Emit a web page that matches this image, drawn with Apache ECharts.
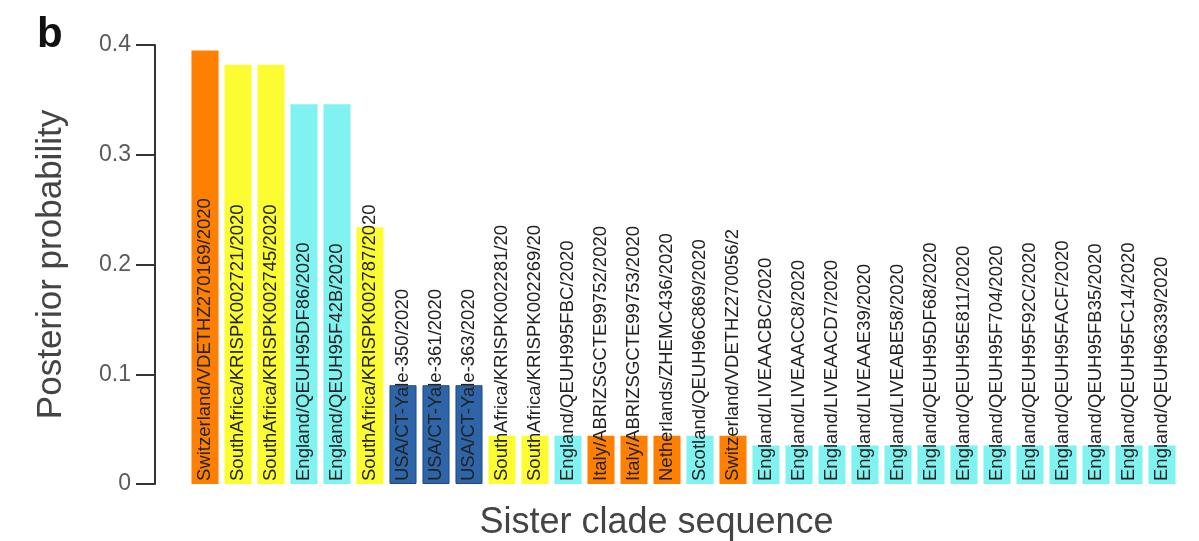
<!DOCTYPE html>
<html>
<head>
<meta charset="utf-8">
<script src="https://cdn.jsdelivr.net/npm/echarts@6/dist/echarts.min.js"></script>
<style>
  html, body { margin: 0; padding: 0; background: #ffffff; }
  #chart { width: 1199px; height: 541px; }
</style>
</head>
<body>
<div id="chart"></div>
<script>
// Sister clade sequences, ordered by posterior probability
const sequences = [
  'Switzerland/VDETHZ270169/2020',
  'SouthAfrica/KRISPK002721/2020',
  'SouthAfrica/KRISPK002745/2020',
  'England/QEUH95DF86/2020',
  'England/QEUH95F42B/2020',
  'SouthAfrica/KRISPK002787/2020',
  'USA/CT-Yale-350/2020',
  'USA/CT-Yale-361/2020',
  'USA/CT-Yale-363/2020',
  'SouthAfrica/KRISPK002281/20',
  'SouthAfrica/KRISPK002269/20',
  'England/QEUH995FBC/2020',
  'Italy/ABRIZSGCTE99752/2020',
  'Italy/ABRIZSGCTE99753/2020',
  'Netherlands/ZHEMC436/2020',
  'Scotland/QEUH96C869/2020',
  'Switzerland/VDETHZ270056/2',
  'England/LIVEAACBC/2020',
  'England/LIVEAACC8/2020',
  'England/LIVEAACD7/2020',
  'England/LIVEAAE39/2020',
  'England/LIVEABE58/2020',
  'England/QEUH95DF68/2020',
  'England/QEUH95E811/2020',
  'England/QEUH95F704/2020',
  'England/QEUH95F92C/2020',
  'England/QEUH95FACF/2020',
  'England/QEUH95FB35/2020',
  'England/QEUH95FC14/2020',
  'England/QEUH96339/2020'
];

// Posterior probability of each sister clade
const probabilities = [
  0.395, 0.382, 0.382, 0.346, 0.346, 0.234,
  0.090, 0.090, 0.090,
  0.044, 0.044, 0.044, 0.044, 0.044, 0.044, 0.044, 0.044,
  0.035, 0.035, 0.035, 0.035, 0.035, 0.035, 0.035,
  0.035, 0.035, 0.035, 0.035, 0.035, 0.035
];

const yTicks = [0, 0.1, 0.2, 0.3, 0.4];

// Fill colour by country of sampling
const countryColors = {
  Switzerland: '#FF8000',
  Italy: '#FF8000',
  Netherlands: '#FF8000',
  SouthAfrica: '#FCFC32',
  England: '#80F2F0',
  Scotland: '#80F2F0',
  USA: '#2D65A8'
};

const barData = probabilities.map((p, i) => {
  const country = sequences[i].split('/')[0];
  const item = { value: p, itemStyle: { color: countryColors[country] } };
  if (country === 'USA') {
    item.itemStyle.borderColor = '#1E4A84';
    item.itemStyle.borderWidth = 1;
  }
  return item;
});

const chart = echarts.init(document.getElementById('chart'));
chart.setOption({
  animation: false,
  backgroundColor: '#ffffff',
  textStyle: { fontFamily: 'Liberation Sans, Arial, sans-serif' },
  grid: {
    left: 188.5, right: 20.5, top: 45, bottom: 57,
    containLabel: false,
    outerBoundsMode: 'none'
  },
  graphic: [{
    type: 'text',
    left: 37,
    top: 14,
    style: { text: 'b', font: 'bold 42px Liberation Sans, Arial, sans-serif', fill: '#111' }
  }],
  xAxis: {
    type: 'category',
    data: sequences,
    axisLine: { show: false },
    axisTick: { show: false },
    axisLabel: { show: false },
    name: 'Sister clade sequence',
    nameLocation: 'middle',
    nameGap: 21,
    nameTextStyle: { fontSize: 36, color: '#444', padding: [0, 0, 0, -54] }
  },
  yAxis: {
    type: 'value',
    min: yTicks[0],
    max: yTicks[yTicks.length - 1],
    interval: 0.1,
    offset: 33.5,
    axisLine: { show: true, lineStyle: { color: '#333', width: 2 } },
    axisTick: { show: true, length: 19, lineStyle: { color: '#333', width: 2 } },
    splitLine: { show: false },
    axisLabel: {
      margin: 24,
      fontSize: 23,
      color: '#5a5a5a',
      formatter: v => (v === 0 ? '0' : v.toFixed(1))
    },
    name: 'Posterior probability',
    nameLocation: 'middle',
    nameGap: 86,
    nameTextStyle: { fontSize: 35, color: '#444' }
  },
  series: [{
    type: 'bar',
    data: barData,
    barCategoryGap: '18%',
    label: {
      show: true,
      position: 'insideBottom',
      rotate: 90,
      align: 'left',
      verticalAlign: 'middle',
      distance: 3,
      fontSize: 18.5,
      color: '#222',
      formatter: p => sequences[p.dataIndex]
    }
  }]
});
</script>
</body>
</html>
